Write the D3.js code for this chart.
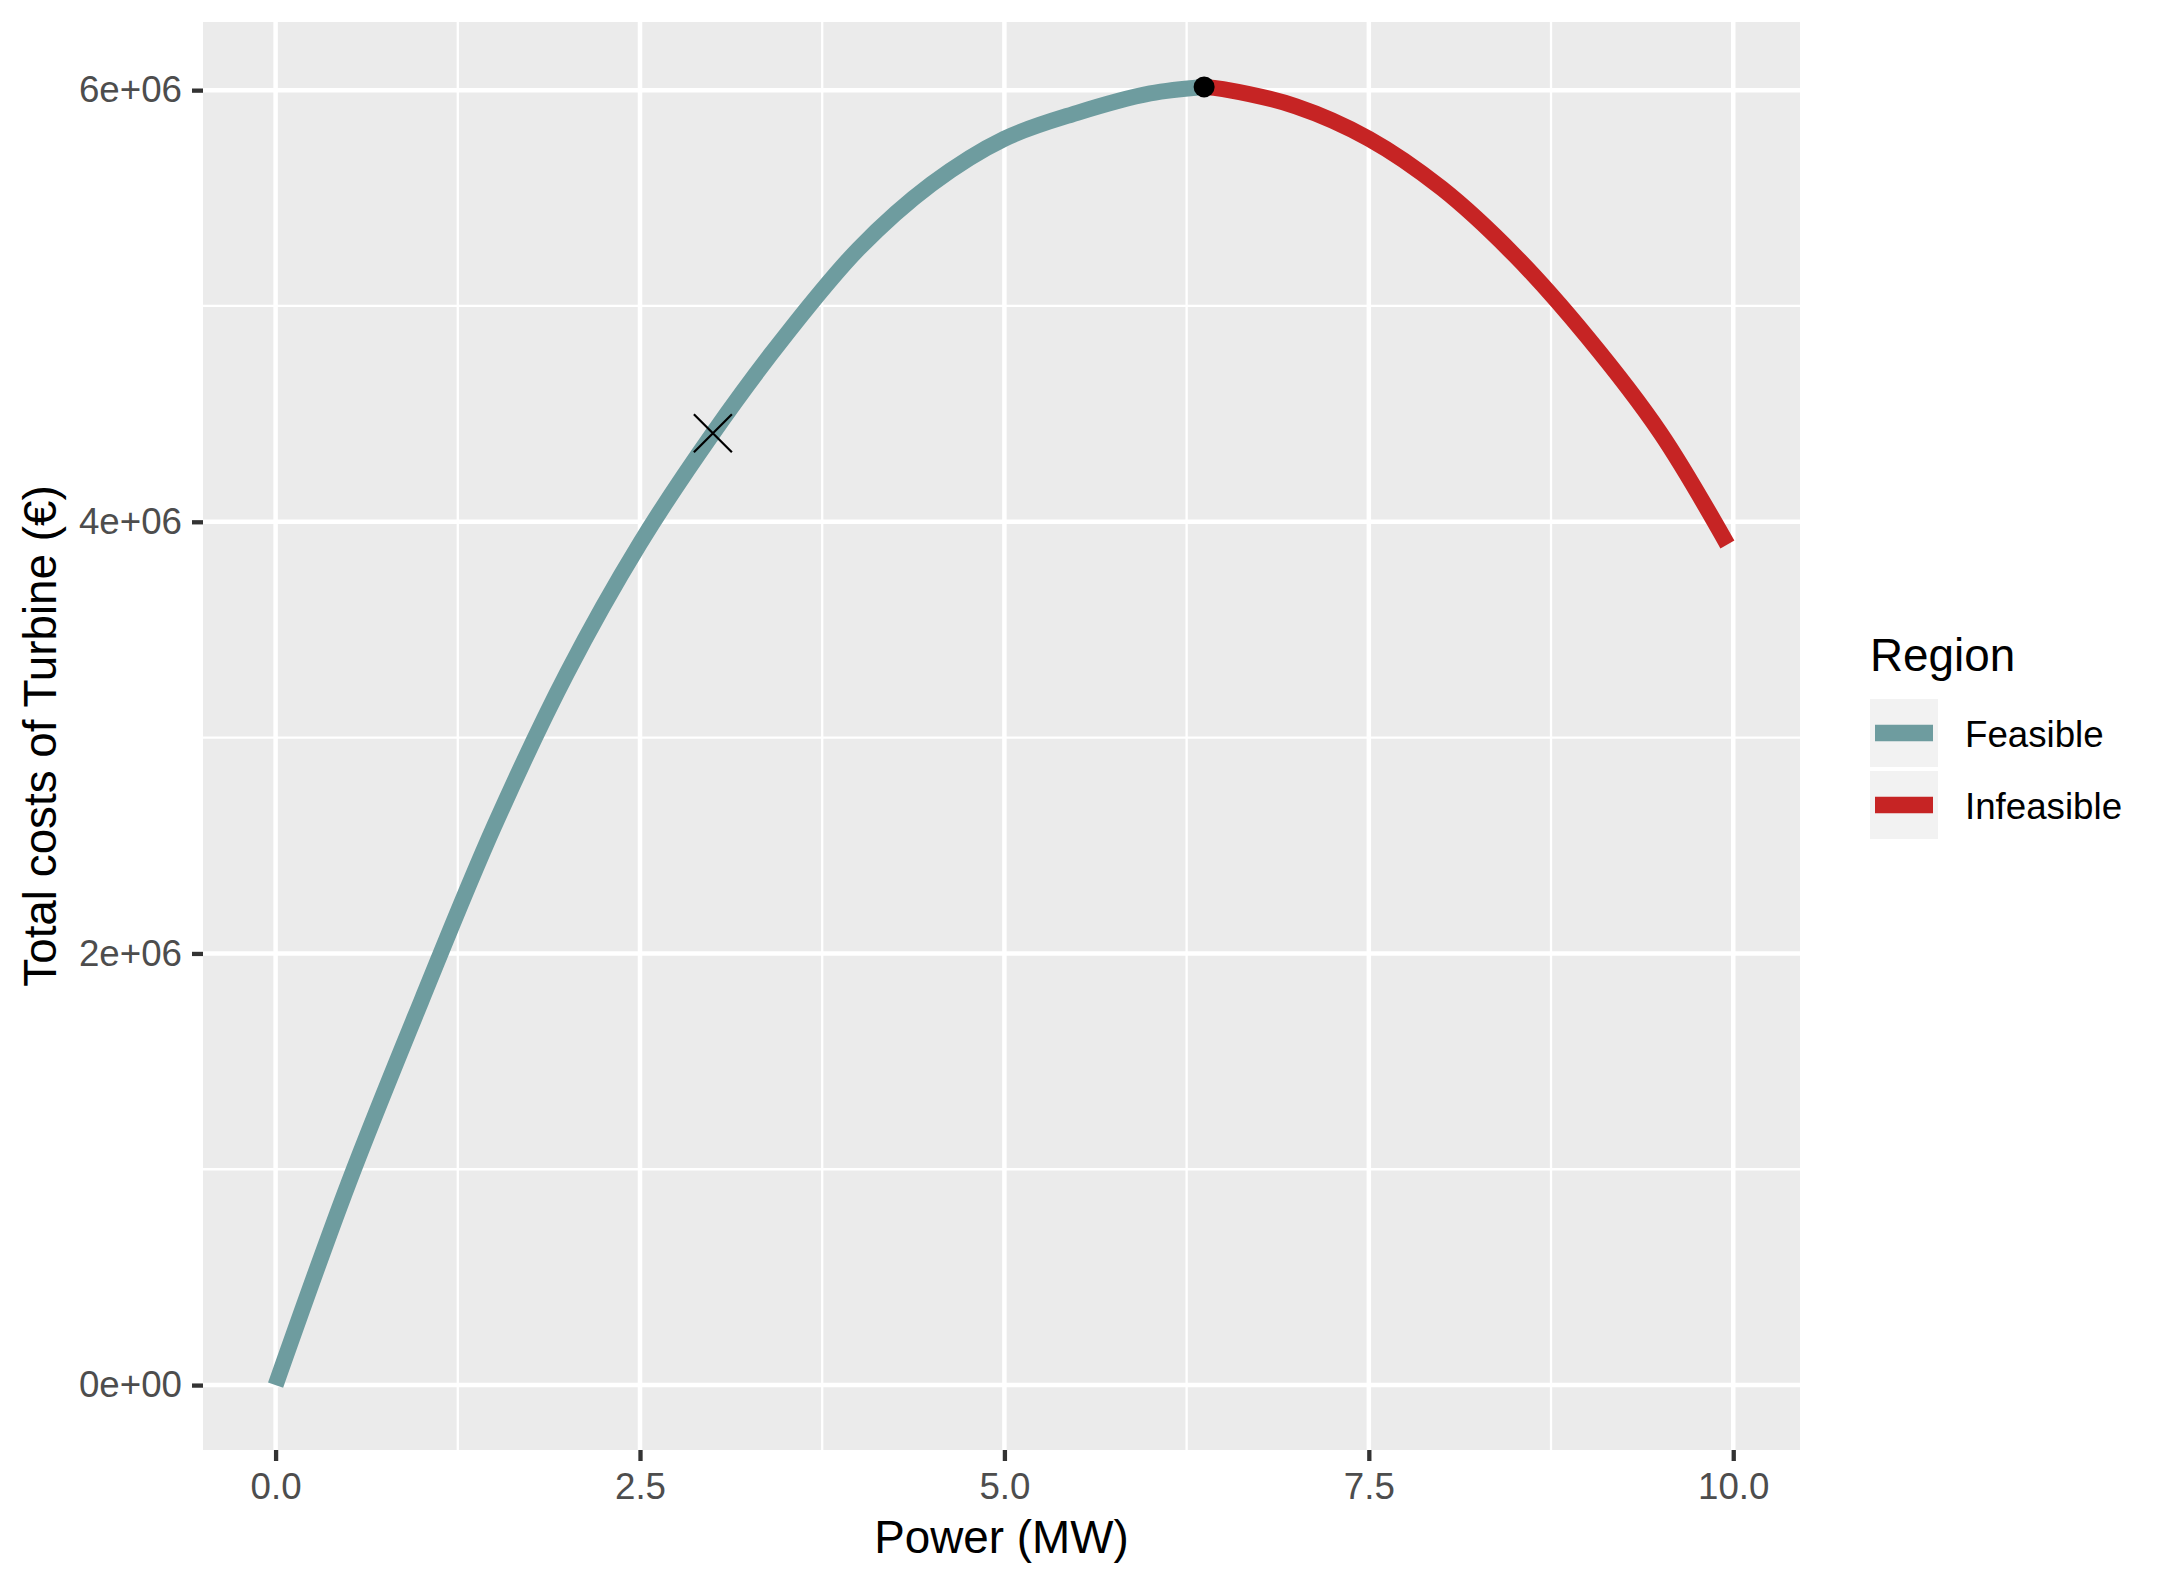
<!DOCTYPE html>
<html>
<head>
<meta charset="utf-8">
<script src="https://cdn.jsdelivr.net/npm/d3@7"></script>
<style>
  body { margin: 0; background: #fff; }
  svg { display: block; font-family: "Liberation Sans", Arial, sans-serif; }
</style>
</head>
<body>
<div id="chart"></div>
<script>
// values
var feasiblePower = [0, 0.5, 1.0, 1.5, 2.0, 2.5, 3.0, 3.5, 4.0, 4.5, 5.0, 5.5, 6.0, 6.37];
var feasibleCost = [0, 935000, 1780000, 2590000, 3300000, 3900000, 4410000, 4865000, 5265000, 5565000, 5775000, 5895000, 5985000, 6015000];
var infeasiblePower = [6.37, 6.5, 7.0, 7.5, 8.0, 8.5, 9.0, 9.5, 9.96];
var infeasibleCost = [6015000, 6005000, 5925000, 5775000, 5545000, 5235000, 4855000, 4412000, 3895000];

var optimumPoint = [6.37, 6015000];   // black dot
var markedPoint = [3.0, 4410000];     // cross

var regions = ['Feasible', 'Infeasible'];
var regionColors = ['#6e9c9f', '#c62424'];

var xMajor = [0, 2.5, 5, 7.5, 10];
var xMinor = [1.25, 3.75, 6.25, 8.75];
var xTickLabels = ['0.0', '2.5', '5.0', '7.5', '10.0'];
var yMajor = [0, 2e6, 4e6, 6e6];
var yMinor = [1e6, 3e6, 5e6];
var yTickLabels = ['0e+00', '2e+06', '4e+06', '6e+06'];

var W = 2162, H = 1587;
var panel = { left: 203, right: 1800, top: 22, bottom: 1450 };

var svg = d3.select('#chart').append('svg')
    .attr('width', W)
    .attr('height', H);

// ggplot style 5% expansion
var allX = feasiblePower.concat(infeasiblePower),
    allY = feasibleCost.concat(infeasibleCost);
var xExt = d3.extent(allX), yExt = d3.extent(allY);
var xPad = (xExt[1] - xExt[0]) * 0.05,
    yPad = (yExt[1] - yExt[0]) * 0.05;

var x = d3.scaleLinear()
    .domain([xExt[0] - xPad, xExt[1] + xPad])
    .range([panel.left, panel.right]);
var y = d3.scaleLinear()
    .domain([yExt[0] - yPad, yExt[1] + yPad])
    .range([panel.bottom, panel.top]);

svg.append('rect')
    .attr('x', panel.left)
    .attr('y', panel.top)
    .attr('width', panel.right - panel.left)
    .attr('height', panel.bottom - panel.top)
    .attr('fill', '#ebebeb');

var grid = svg.append('g').attr('stroke', '#fff');

grid.selectAll('.xminor').data(xMinor).enter().append('line')
    .attr('x1', x).attr('x2', x)
    .attr('y1', panel.top).attr('y2', panel.bottom)
    .attr('stroke-width', 2.3);
grid.selectAll('.yminor').data(yMinor).enter().append('line')
    .attr('y1', y).attr('y2', y)
    .attr('x1', panel.left).attr('x2', panel.right)
    .attr('stroke-width', 2.3);
grid.selectAll('.xmajor').data(xMajor).enter().append('line')
    .attr('x1', x).attr('x2', x)
    .attr('y1', panel.top).attr('y2', panel.bottom)
    .attr('stroke-width', 4.5);
grid.selectAll('.ymajor').data(yMajor).enter().append('line')
    .attr('y1', y).attr('y2', y)
    .attr('x1', panel.left).attr('x2', panel.right)
    .attr('stroke-width', 4.5);

// curve, one path per region
var line = d3.line()
    .x(function(d) { return x(d[0]); })
    .y(function(d) { return y(d[1]); })
    .curve(d3.curveCatmullRom.alpha(0.5));

var series = [
    d3.zip(feasiblePower, feasibleCost),
    d3.zip(infeasiblePower, infeasibleCost)
];

svg.selectAll('.curve').data(series).enter().append('path')
    .attr('class', 'curve')
    .attr('d', line)
    .attr('fill', 'none')
    .attr('stroke', function(d, i) { return regionColors[i]; })
    .attr('stroke-width', 16)
    .attr('stroke-linejoin', 'round')
    .attr('stroke-linecap', 'butt');

svg.append('circle')
    .attr('cx', x(optimumPoint[0]))
    .attr('cy', y(optimumPoint[1]))
    .attr('r', 10.5)
    .attr('fill', '#000');

var cx = x(markedPoint[0]), cy = y(markedPoint[1]), s = 19;
svg.append('path')
    .attr('d', 'M' + (cx - s) + ',' + (cy - s) + 'L' + (cx + s) + ',' + (cy + s) +
        'M' + (cx - s) + ',' + (cy + s) + 'L' + (cx + s) + ',' + (cy - s))
    .attr('stroke', '#000')
    .attr('stroke-width', 2.2)
    .attr('fill', 'none');

// axes
var xAxis = svg.append('g')
    .attr('transform', 'translate(0,' + panel.bottom + ')')
    .call(d3.axisBottom(x)
        .tickValues(xMajor)
        .tickFormat(function(d, i) { return xTickLabels[i]; })
        .tickSize(11)
        .tickPadding(12));

var yAxis = svg.append('g')
    .attr('transform', 'translate(' + panel.left + ',0)')
    .call(d3.axisLeft(y)
        .tickValues(yMajor)
        .tickFormat(function(d, i) { return yTickLabels[i]; })
        .tickSize(11)
        .tickPadding(10));

[xAxis, yAxis].forEach(function(a) {
    a.select('.domain').remove();
    a.selectAll('.tick line').attr('stroke', '#333').attr('stroke-width', 4.3);
    a.selectAll('.tick text')
        .attr('fill', '#4d4d4d')
        .style('font-size', '36.7px')
        .style('font-family', '"Liberation Sans", Arial, sans-serif');
});

svg.append('text')
    .attr('x', (panel.left + panel.right) / 2)
    .attr('y', 1553)
    .attr('text-anchor', 'middle')
    .style('font-size', '45.8px')
    .text('Power (MW)');

svg.append('text')
    .attr('transform', 'translate(56,' + (panel.top + panel.bottom) / 2 + ') rotate(-90)')
    .attr('text-anchor', 'middle')
    .style('font-size', '45.8px')
    .text('Total costs of Turbine (€)');

// legend
var legend = svg.append('g').attr('transform', 'translate(1870,0)');

legend.append('text')
    .attr('x', 0)
    .attr('y', 671)
    .style('font-size', '45.8px')
    .text('Region');

var keys = legend.selectAll('.key').data(regions).enter().append('g')
    .attr('class', 'key')
    .attr('transform', function(d, i) { return 'translate(0,' + (699 + i * 72) + ')'; });

keys.append('rect')
    .attr('width', 68)
    .attr('height', 68)
    .attr('fill', '#f2f2f2');

keys.append('line')
    .attr('x1', 5).attr('x2', 63)
    .attr('y1', 34).attr('y2', 34)
    .attr('stroke', function(d, i) { return regionColors[i]; })
    .attr('stroke-width', 16.7);

keys.append('text')
    .attr('x', 95)
    .attr('y', 48)
    .style('font-size', '36.7px')
    .text(function(d) { return d; });
</script>
</body>
</html>
